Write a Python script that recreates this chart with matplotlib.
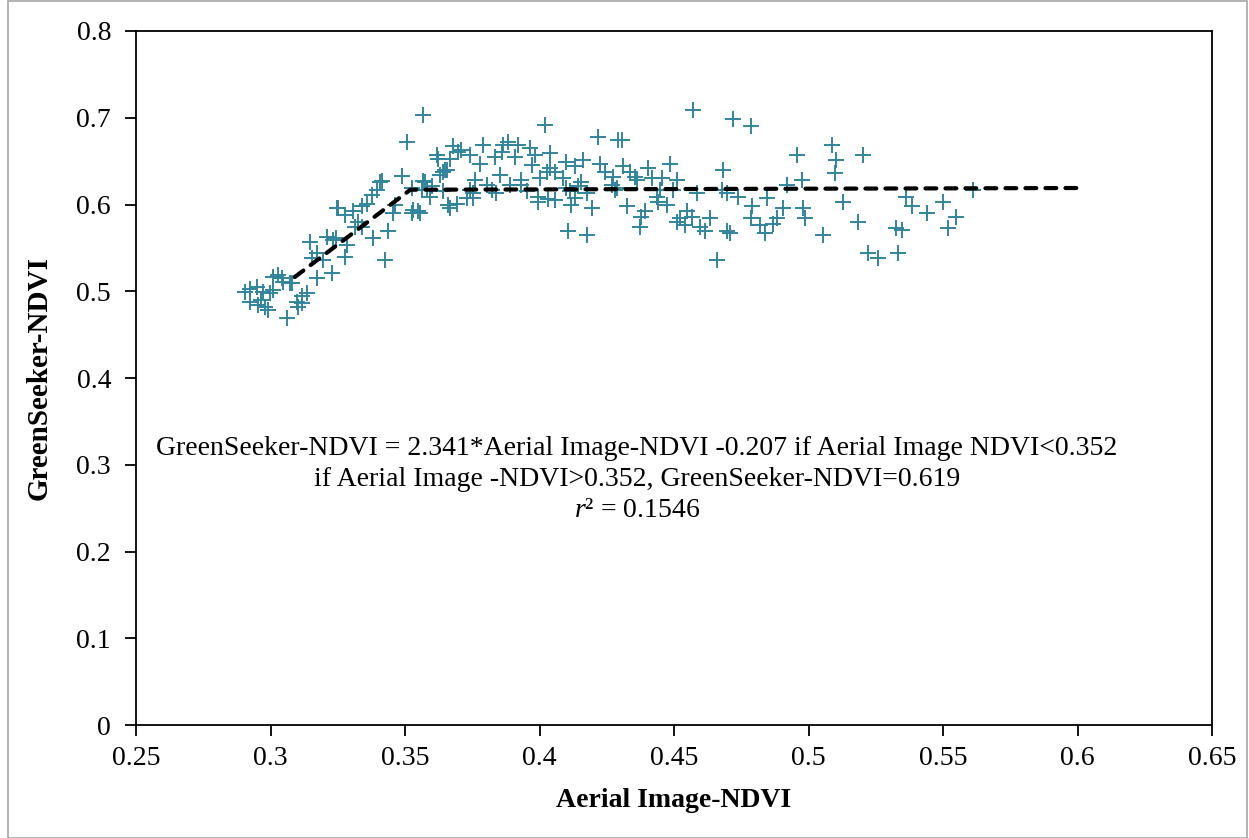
import matplotlib
matplotlib.use("Agg")
import matplotlib.pyplot as plt
from matplotlib.patches import Rectangle

plt.rcParams['font.family'] = ['Liberation Serif', 'DejaVu Serif']
plt.rcParams['mathtext.fontset'] = 'custom'
plt.rcParams['mathtext.it'] = 'Liberation Serif:italic'
plt.rcParams['mathtext.rm'] = 'Liberation Serif'

aerial_ndvi = [
    0.349, 0.3413, 0.3395, 0.3568, 0.3525, 0.3562, 0.3376, 0.3358, 0.3339, 0.3252,
    0.3308, 0.3277, 0.3463, 0.3456, 0.3525, 0.3549, 0.3326, 0.3339, 0.3314, 0.3438,
    0.3382, 0.3147, 0.3209, 0.3233, 0.3283, 0.3245, 0.3172, 0.3153, 0.3196, 0.3277,
    0.3227, 0.3172, 0.3426, 0.3029, 0.3042, 0.3010, 0.3072, 0.2924, 0.2949, 0.2973,
    0.2998, 0.2905, 0.2924, 0.2979, 0.2955, 0.3097, 0.3116, 0.3103, 0.3135, 0.3060,
    0.3048, 0.3079, 0.3010, 0.2992, 0.3116, 0.2965,
    0.3506, 0.3649, 0.3407, 0.3246, 0.3531,
    0.3568, 0.4020, 0.4218, 0.4293, 0.3679, 0.3710, 0.3698, 0.3791, 0.3884, 0.3865,
    0.3921, 0.3964, 0.3741, 0.3623, 0.3667, 0.3834, 0.3859, 0.3909, 0.3983, 0.4039,
    0.3779, 0.3971, 0.4100, 0.4162, 0.4225, 0.4132, 0.3655, 0.4039, 0.4027, 0.4057,
    0.3630, 0.3853, 0.4243, 0.4088, 0.4002, 0.3760, 0.3933, 0.4156, 0.3574, 0.3599,
    0.3580, 0.4268, 0.4280, 0.3890, 0.3933, 0.3803, 0.3741, 0.3822, 0.3642, 0.3754,
    0.3840, 0.3952, 0.4113, 0.4175, 0.3729, 0.3592, 0.3995, 0.4132, 0.3661, 0.3692,
    0.3995, 0.4057, 0.3556, 0.4194, 0.4107, 0.4175,
    0.3667, 0.3618, 0.3754, 0.3642, 0.4142, 0.4030, 0.4100, 0.4118,
    0.4572, 0.4720, 0.4788, 0.4305, 0.4956, 0.4485, 0.4311, 0.4404, 0.4683, 0.4336,
    0.4355, 0.4417, 0.4454, 0.4510, 0.4974, 0.4361, 0.4274, 0.4919, 0.4498, 0.4287,
    0.4677, 0.4448, 0.4584, 0.4696, 0.4739, 0.4844, 0.4435, 0.4442, 0.4473, 0.4324,
    0.4789, 0.4904, 0.4978, 0.4392, 0.4379, 0.4633, 0.4788, 0.4882, 0.4987, 0.4522,
    0.4547, 0.4510, 0.4566, 0.4373, 0.4541, 0.4596, 0.4819, 0.4869, 0.4615, 0.4696,
    0.4708, 0.4838, 0.4658,
    0.5086, 0.5203, 0.5104, 0.5098, 0.5612, 0.5129, 0.5364, 0.5501, 0.5383, 0.5439,
    0.5550, 0.5185, 0.5327, 0.5346, 0.5519, 0.5055, 0.5222, 0.5259, 0.5334,
]
greenseeker_ndvi = [
    0.633, 0.627, 0.617, 0.627, 0.619, 0.617, 0.611, 0.601, 0.598, 0.596,
    0.592, 0.588, 0.599, 0.590, 0.590, 0.592, 0.580, 0.574, 0.574, 0.569,
    0.561, 0.557, 0.563, 0.559, 0.553, 0.561, 0.544, 0.538, 0.536, 0.540,
    0.521, 0.515, 0.536, 0.519, 0.515, 0.517, 0.509, 0.503, 0.505, 0.499,
    0.498, 0.499, 0.488, 0.482, 0.484, 0.488, 0.486, 0.482, 0.498, 0.469,
    0.511, 0.509, 0.501, 0.478, 0.494, 0.490,
    0.672, 0.640, 0.626, 0.596, 0.594,
    0.703, 0.692, 0.678, 0.674, 0.667, 0.663, 0.660, 0.669, 0.672, 0.669,
    0.669, 0.665, 0.657, 0.653, 0.653, 0.655, 0.661, 0.655, 0.657, 0.659,
    0.647, 0.646, 0.649, 0.651, 0.647, 0.644, 0.640, 0.642, 0.638, 0.638,
    0.634, 0.634, 0.638, 0.630, 0.630, 0.628, 0.628, 0.626, 0.626, 0.621,
    0.617, 0.622, 0.617, 0.622, 0.622, 0.622, 0.617, 0.617, 0.615, 0.608,
    0.613, 0.615, 0.615, 0.613, 0.607, 0.609, 0.609, 0.607, 0.599, 0.601,
    0.603, 0.605, 0.590, 0.596, 0.569, 0.565,
    0.596, 0.657, 0.613, 0.638, 0.621, 0.606, 0.619, 0.600,
    0.709, 0.699, 0.690, 0.674, 0.657, 0.647, 0.644, 0.642, 0.640, 0.638,
    0.632, 0.630, 0.630, 0.628, 0.628, 0.628, 0.632, 0.622, 0.617, 0.619,
    0.617, 0.617, 0.613, 0.613, 0.609, 0.607, 0.609, 0.603, 0.599, 0.598,
    0.598, 0.596, 0.596, 0.592, 0.586, 0.584, 0.584, 0.584, 0.584, 0.584,
    0.592, 0.580, 0.586, 0.574, 0.576, 0.574, 0.576, 0.578, 0.569, 0.569,
    0.567, 0.567, 0.536,
    0.669, 0.657, 0.651, 0.636, 0.617, 0.603, 0.609, 0.603, 0.598, 0.590,
    0.586, 0.580, 0.573, 0.571, 0.573, 0.565, 0.544, 0.538, 0.544,
]

# piecewise fit
fit_slope = 2.341
fit_intercept = -0.207
breakpoint_x = 0.352
plateau_y = 0.619
fit_x = [0.309, breakpoint_x, 0.6]

x_ticks = [0.25, 0.3, 0.35, 0.4, 0.45, 0.5, 0.55, 0.6, 0.65]
x_tick_labels = ['0.25', '0.3', '0.35', '0.4', '0.45', '0.5', '0.55', '0.6', '0.65']
y_ticks = [0, 0.1, 0.2, 0.3, 0.4, 0.5, 0.6, 0.7, 0.8]
y_tick_labels = ['0', '0.1', '0.2', '0.3', '0.4', '0.5', '0.6', '0.7', '0.8']

fig = plt.figure(figsize=(12.49, 8.38), dpi=100)
ax = fig.add_axes([136/1249, 1-725/838, (1212-136)/1249, (725-31)/838])

ax.plot(aerial_ndvi, greenseeker_ndvi, linestyle='none', marker='+',
        markersize=12, markeredgewidth=1.4, color='#31859C', zorder=2)

fit_y = [fit_slope*v + fit_intercept if v <= breakpoint_x else plateau_y for v in fit_x]
ax.plot(fit_x, fit_y, color='black', linewidth=3.0, linestyle=(0, (2.6, 2.2)),
        dash_capstyle='round', solid_capstyle='round', zorder=3)

ax.set_xlim(0.25, 0.65)
ax.set_ylim(0, 0.8)
ax.set_xticks(x_ticks)
ax.set_xticklabels(x_tick_labels)
ax.set_yticks(y_ticks)
ax.set_yticklabels(y_tick_labels)
ax.tick_params(direction='out', length=8, width=1.3, labelsize=20)
ax.tick_params(axis='x', pad=7)
ax.tick_params(axis='y', pad=10)
for sp in ax.spines.values():
    sp.set_linewidth(1.3)

ax.set_xlabel('Aerial Image-NDVI', fontsize=20, fontweight='bold', labelpad=12)
ax.set_ylabel('GreenSeeker-NDVI', fontsize=21, fontweight='bold', labelpad=17)

ann_x = 0.4362
ax.text(ann_x, 0.3190, 'GreenSeeker-NDVI = 2.341*Aerial Image-NDVI -0.207 if Aerial Image NDVI<0.352',
        ha='center', va='center', fontsize=20)
ax.text(ann_x, 0.2835, 'if Aerial Image -NDVI>0.352, GreenSeeker-NDVI=0.619',
        ha='center', va='center', fontsize=20)
ax.text(ann_x, 0.2470, r'$r$² = 0.1546', ha='center', va='center', fontsize=20)

fig.patches.append(Rectangle((8/1249, 0.5/838), (1247-8)/1249, 836/838, transform=fig.transFigure,
                             fill=False, edgecolor='#a6a6a6', linewidth=1.2))

fig.savefig('out.png', dpi=100)
